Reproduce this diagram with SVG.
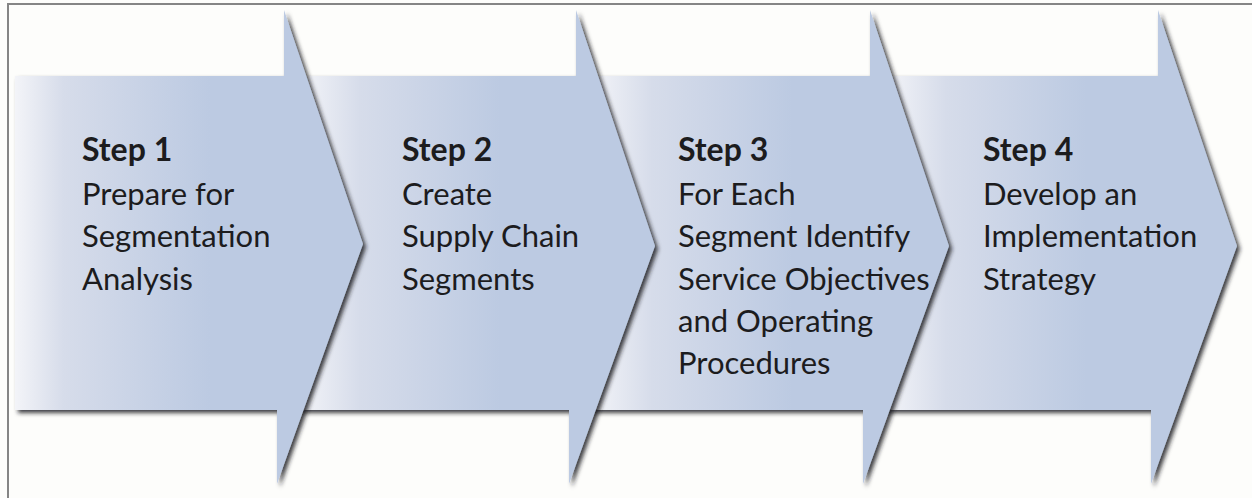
<svg xmlns="http://www.w3.org/2000/svg" width="1252" height="498" viewBox="0 0 1252 498">
<style>
.t{font-family:Lato,"Liberation Sans",sans-serif;font-size:31px;fill:#1c1c1e}
.h{font-weight:bold;font-size:32px}
.arrow{filter:url(#sh)}
</style>
<defs>
<filter id="sh" x="-10%" y="-10%" width="130%" height="130%">
<feGaussianBlur in="SourceAlpha" stdDeviation="2.2"/>
<feOffset dx="3" dy="3" result="b"/>
<feFlood flood-color="#1e1e22" flood-opacity="0.85"/>
<feComposite in2="b" operator="in"/>
<feMerge><feMergeNode/><feMergeNode in="SourceGraphic"/></feMerge>
</filter>
<linearGradient id="g1" gradientUnits="userSpaceOnUse" x1="15" y1="0" x2="210" y2="0">
<stop offset="0" stop-color="#f3f4f8"/><stop offset="0.25" stop-color="#d6dcea"/><stop offset="1" stop-color="#bccae2"/>
</linearGradient>
<linearGradient id="g2" gradientUnits="userSpaceOnUse" x1="300" y1="0" x2="500" y2="0">
<stop offset="0" stop-color="#f3f4f8"/><stop offset="0.3" stop-color="#d6dcea"/><stop offset="1" stop-color="#bccae2"/>
</linearGradient>
<linearGradient id="g3" gradientUnits="userSpaceOnUse" x1="592" y1="0" x2="792" y2="0">
<stop offset="0" stop-color="#f3f4f8"/><stop offset="0.3" stop-color="#d6dcea"/><stop offset="1" stop-color="#bccae2"/>
</linearGradient>
<linearGradient id="g4" gradientUnits="userSpaceOnUse" x1="886" y1="0" x2="1086" y2="0">
<stop offset="0" stop-color="#f3f4f8"/><stop offset="0.3" stop-color="#d6dcea"/><stop offset="1" stop-color="#bccae2"/>
</linearGradient>
</defs>
<rect x="0" y="0" width="1252" height="498" fill="#fdfdfb"/>
<rect x="8" y="4" width="1260" height="510" fill="none" stroke="#858585" stroke-width="2"/>
<g id="step4">
<path class="arrow" d="M870,76 H1158 V10 L1237,246 L1151,484 V410 H870 Z" fill="url(#g4)"/>
<text class="t h" x="983" y="161">Step 4</text>
<text class="t" x="983" y="205">Develop an</text>
<text class="t" x="983" y="247">Implementation</text>
<text class="t" x="983" y="290">Strategy</text>
</g>
<g id="step3">
<path class="arrow" d="M576,76 H870 V10 L949,246 L863,484 V410 H576 Z" fill="url(#g3)"/>
<text class="t h" x="678" y="161">Step 3</text>
<text class="t" x="678" y="205">For Each</text>
<text class="t" x="678" y="247">Segment Identify</text>
<text class="t" x="678" y="290">Service Objectives</text>
<text class="t" x="678" y="332">and Operating</text>
<text class="t" x="678" y="374">Procedures</text>
</g>
<g id="step2">
<path class="arrow" d="M284,76 H576 V10 L655,246 L569,484 V410 H284 Z" fill="url(#g2)"/>
<text class="t h" x="402" y="161">Step 2</text>
<text class="t" x="402" y="205">Create</text>
<text class="t" x="402" y="247">Supply Chain</text>
<text class="t" x="402" y="290">Segments</text>
</g>
<g id="step1">
<path class="arrow" d="M15,76 H284 V10 L363,244 L277,484 V410 H15 Z" fill="url(#g1)"/>
<text class="t h" x="82" y="161">Step 1</text>
<text class="t" x="82" y="205">Prepare for</text>
<text class="t" x="82" y="247">Segmentation</text>
<text class="t" x="82" y="290">Analysis</text>
</g>
<g id="connectors"></g>
</svg>
